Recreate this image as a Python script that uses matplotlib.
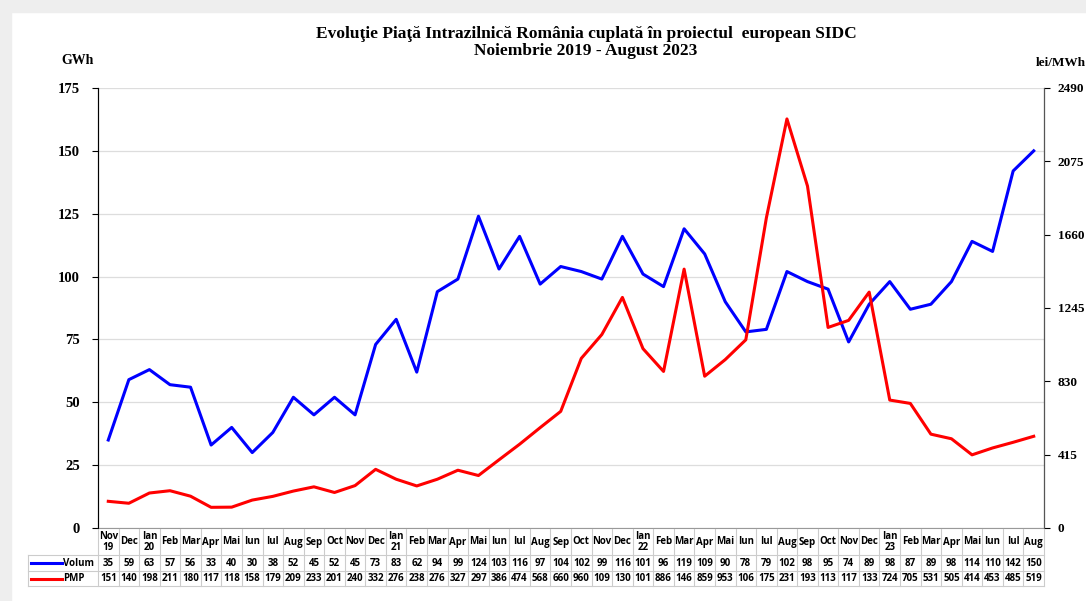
import matplotlib
matplotlib.use("Agg")
from matplotlib import pyplot as plt
from matplotlib.transforms import blended_transform_factory
from matplotlib.patches import Rectangle
from matplotlib.lines import Line2D

months = ["Nov\n19", "Dec", "Ian\n20", "Feb", "Mar", "Apr", "Mai", "Iun", "Iul", "Aug", "Sep", "Oct", "Nov", "Dec",
          "Ian\n21", "Feb", "Mar", "Apr", "Mai", "Iun", "Iul", "Aug", "Sep", "Oct", "Nov", "Dec",
          "Ian\n22", "Feb", "Mar", "Apr", "Mai", "Iun", "Iul", "Aug", "Sep", "Oct", "Nov", "Dec",
          "Ian\n23", "Feb", "Mar", "Apr", "Mai", "Iun", "Iul", "Aug"]
volum = [35, 59, 63, 57, 56, 33, 40, 30, 38, 52, 45, 52, 45, 73,
         83, 62, 94, 99, 124, 103, 116, 97, 104, 102, 99, 116,
         101, 96, 119, 109, 90, 78, 79, 102, 98, 95, 74, 89,
         98, 87, 89, 98, 114, 110, 142, 150]
pmp = [151, 140, 198, 211, 180, 117, 118, 158, 179, 209, 233, 201, 240, 332,
       276, 238, 276, 327, 297, 386, 474, 568, 660, 960, 1095, 1305,
       1015, 886, 1465, 859, 953, 1065, 1755, 2315, 1935, 1135, 1175, 1335,
       724, 705, 531, 505, 414, 453, 485, 519]
left_ticks = [0, 25, 50, 75, 100, 125, 150, 175]
right_ticks = [0, 415, 830, 1245, 1660, 2075, 2490]

W, H = 1086, 601
serif = "Liberation Serif"
sans = "Open Sans"
tfs = 7.0  # table font size

fig = plt.figure(figsize=(W / 100, H / 100), dpi=100)
fig.patches.append(Rectangle((0, 1 - 12 / H), 1, 12 / H, transform=fig.transFigure, color="#eeeeee", zorder=0))
fig.patches.append(Rectangle((0, 0), 11 / W, 1, transform=fig.transFigure, color="#eeeeee", zorder=0))

ax = fig.add_axes([98 / W, 1 - 528 / H, (1044 - 98) / W, (528 - 88) / H])
ax2 = ax.twinx()

x = list(range(len(months)))
ax.plot(x, volum, color="#0000ff", lw=2.2, zorder=3)
ax2.plot(x, pmp, color="#ff0000", lw=2.2, zorder=3)

ax.set_xlim(-0.5, len(months) - 0.5)
ax.set_ylim(0, 175)
ax2.set_ylim(0, 2490)
ax.set_yticks(left_ticks)
ax2.set_yticks(right_ticks)
ax.set_xticks([])
ax.yaxis.grid(True, color="#dddddd", lw=0.9)
ax.set_axisbelow(True)
for a, fs in ((ax, 10.5), (ax2, 9.5)):
    a.spines["top"].set_visible(False)
    a.tick_params(axis="y", length=4, width=0.8, labelsize=fs)
    for lab in a.get_yticklabels():
        lab.set_fontfamily(serif)
        lab.set_fontweight("bold")
ax.spines["bottom"].set_color("#999999")
ax2.spines["bottom"].set_visible(False)
ax.spines["left"].set_color("#333333")
ax2.spines["right"].set_color("#555555")
ax.tick_params(axis="y", pad=9)
ax2.tick_params(axis="y", pad=6)

fig.text(586 / W, 1 - 34 / H, "Evoluţie Piaţă Intrazilnică România cuplată în proiectul  european SIDC",
         ha="center", va="center", fontsize=12.5, fontweight="bold", family=serif)
fig.text(586 / W, 1 - 51 / H, "Noiembrie 2019 - August 2023",
         ha="center", va="center", fontsize=12.5, fontweight="bold", family=serif)
fig.text(78 / W, 1 - 61 / H, "GWh", ha="center", va="center", fontsize=10, fontweight="bold", family=serif)
fig.text(1036 / W, 1 - 63 / H, "lei/MWh", ha="left", va="center", fontsize=9.5, fontweight="bold", family=serif)

# data table under the chart
tr = blended_transform_factory(ax.transData, fig.transFigure)
y_top, y_h, y_v, y_bot = 1 - 529 / H, 1 - 555 / H, 1 - 571 / H, 1 - 586 / H
grid_c = "#cccccc"
for i in range(len(months) + 1):
    fig.add_artist(Line2D([i - 0.5, i - 0.5], [y_bot, y_top], transform=tr, color=grid_c, lw=0.8))
for yy in (y_h, y_v, y_bot):
    fig.add_artist(Line2D([28 / W, 1044 / W], [yy, yy], transform=fig.transFigure, color=grid_c, lw=0.8))
fig.add_artist(Line2D([28 / W, 28 / W], [y_bot, y_h], transform=fig.transFigure, color=grid_c, lw=0.8))

for i, m in enumerate(months):
    ax.text(i, (y_top + y_h) / 2, m, transform=tr, ha="center", va="center", fontsize=tfs,
            fontweight="bold", family=sans, linespacing=1.0)
    ax.text(i, (y_h + y_v) / 2, str(volum[i]), transform=tr, ha="center", va="center", fontsize=tfs,
            fontweight="bold", family=sans)
    ax.text(i, (y_v + y_bot) / 2, str(int(pmp[i]))[:3], transform=tr, ha="center", va="center", fontsize=tfs,
            fontweight="bold", family=sans)

for yy, name, col in (((y_h + y_v) / 2, "Volum", "#0000ff"), ((y_v + y_bot) / 2, "PMP", "#ff0000")):
    fig.add_artist(Line2D([31 / W, 62 / W], [yy, yy], transform=fig.transFigure, color=col, lw=2.2))
    fig.text(63 / W, yy, name, ha="left", va="center", fontsize=tfs, fontweight="bold", family=sans)

fig.savefig("out.png", dpi=100)
